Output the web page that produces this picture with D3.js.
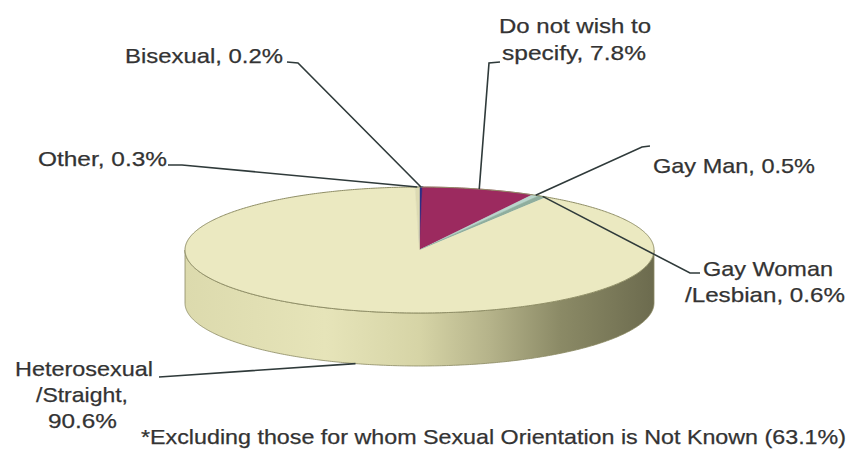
<!DOCTYPE html>
<html>
<head>
<meta charset="utf-8">
<script src="https://cdn.jsdelivr.net/npm/d3@7"></script>
<style>
  html,body{margin:0;padding:0;background:#fff;}
  svg{display:block;}
  text{font-family:"Liberation Sans",Arial,sans-serif;fill:#333;stroke:#333;stroke-width:0.25px;}
</style>
</head>
<body>
<svg id="chart" width="852" height="453"></svg>
<script>
// ---- data ----
const categories = ["Bisexual", "Do not wish to specify", "Gay Man", "Gay Woman /Lesbian", "Heterosexual /Straight", "Other"];
const values = [0.2, 7.8, 0.5, 0.6, 90.6, 0.3];
const labelTexts = [
  ["Bisexual, 0.2%"],
  ["Do not wish to", "specify, 7.8%"],
  ["Gay Man, 0.5%"],
  ["Gay Woman", "/Lesbian, 0.6%"],
  ["Heterosexual", "/Straight,", "90.6%"],
  ["Other, 0.3%"]
];
const footnote = "*Excluding those for whom Sexual Orientation is Not Known (63.1%)";

// ---- styling / layout ----
const colors = ["#2b2f86", "#9c2a5f", "#b9d6cc", "#8fae9e", "#ebe9c1", "#dcdab2"];
const cx = 419.5, cy = 250, rx = 234.5, ry = 63, depth = 53;
// label layout: per line [x, baseline, width]; leader polyline start points
const labelLayout = [
  {lines: [[125, 63, 158]], lead: [[287, 62], [298, 63]], side: false},
  {lines: [[499, 33, 152], [502, 60, 144]], lead: [[500, 62], [489, 63]], side: false},
  {lines: [[653, 173, 162]], lead: [[650, 146], [642, 147]], side: false},
  {lines: [[703, 276, 130], [685, 302, 160]], lead: [[700, 273], [690, 273]], side: false},
  {lines: [[15, 376, 138], [36, 402, 92], [48, 428, 69]], lead: [[159, 377], [174, 376]], side: true},
  {lines: [[38, 166, 129]], lead: [[168, 165], [182, 165]], side: false}
];

const svg = d3.select("#chart");
const P = (a, h = 0) => [cx + rx * Math.sin(a), cy - ry * Math.cos(a) + h];

const pie = d3.pie().sort(null).value(d => d).startAngle(0).endAngle(2 * Math.PI);
const arcs = pie(values);

function arcPoints(a0, a1, h) {
  const n = Math.max(2, Math.ceil(Math.abs(a1 - a0) / 0.01));
  return d3.range(n + 1).map(i => P(a0 + (a1 - a0) * i / n, h));
}
const line = d3.line();

// side gradient
const defs = svg.append("defs");
const grad = defs.append("linearGradient").attr("id", "sideGrad")
  .attr("gradientUnits", "userSpaceOnUse")
  .attr("x1", cx - rx).attr("x2", cx + rx).attr("y1", 0).attr("y2", 0);
[[0, "#dcdaad"], [0.3, "#e6e4b9"], [0.5, "#d6d4a6"], [0.65, "#b5b38a"], [0.8, "#8b8a66"], [1, "#6c6b4e"]]
  .forEach(([o, c]) => grad.append("stop").attr("offset", o).attr("stop-color", c));

// side walls (front half only)
arcs.forEach((d, i) => {
  const a0 = Math.max(d.startAngle, Math.PI / 2), a1 = Math.min(d.endAngle, 3 * Math.PI / 2);
  if (a1 <= a0) return;
  const pts = arcPoints(a0, a1, 0).concat(arcPoints(a1, a0, depth));
  svg.append("path").attr("d", line(pts) + "Z")
    .attr("fill", i === 4 ? "url(#sideGrad)" : d3.color(colors[i]).darker(0.8))
    .attr("stroke", "#8a8962").attr("stroke-width", 0.8);
});

// top face slices
arcs.forEach((d, i) => {
  const pts = [[cx, cy]].concat(arcPoints(d.startAngle, d.endAngle, 0));
  svg.append("path").attr("d", line(pts) + "Z")
    .attr("fill", colors[i])
    .attr("stroke", i === 4 ? "none" : colors[i]).attr("stroke-width", i === 0 ? 1.6 : 0.6);
});
// top outline
svg.append("path").attr("d", line(arcPoints(0, 2 * Math.PI, 0)) + "Z")
  .attr("fill", "none").attr("stroke", "#8f8e66").attr("stroke-width", 1);

// leader lines
arcs.forEach((d, i) => {
  const lay = labelLayout[i];
  const mid = (d.startAngle + d.endAngle) / 2;
  const end = P(mid, lay.side ? depth : 0);
  svg.append("path").attr("d", line(lay.lead.concat([end])))
    .attr("fill", "none").attr("stroke", "#2f3a3a").attr("stroke-width", 1.6);
});

// labels
labelTexts.forEach((lines, i) => {
  lines.forEach((t, j) => {
    const [x, y, w] = labelLayout[i].lines[j];
    svg.append("text").attr("x", x).attr("y", y)
      .attr("font-size", 21)
      .attr("textLength", w).attr("lengthAdjust", "spacingAndGlyphs")
      .text(t);
  });
});

svg.append("text").attr("x", 141).attr("y", 444)
  .attr("font-size", 21).attr("textLength", 705).attr("lengthAdjust", "spacingAndGlyphs")
  .text(footnote);
</script>
</body>
</html>
